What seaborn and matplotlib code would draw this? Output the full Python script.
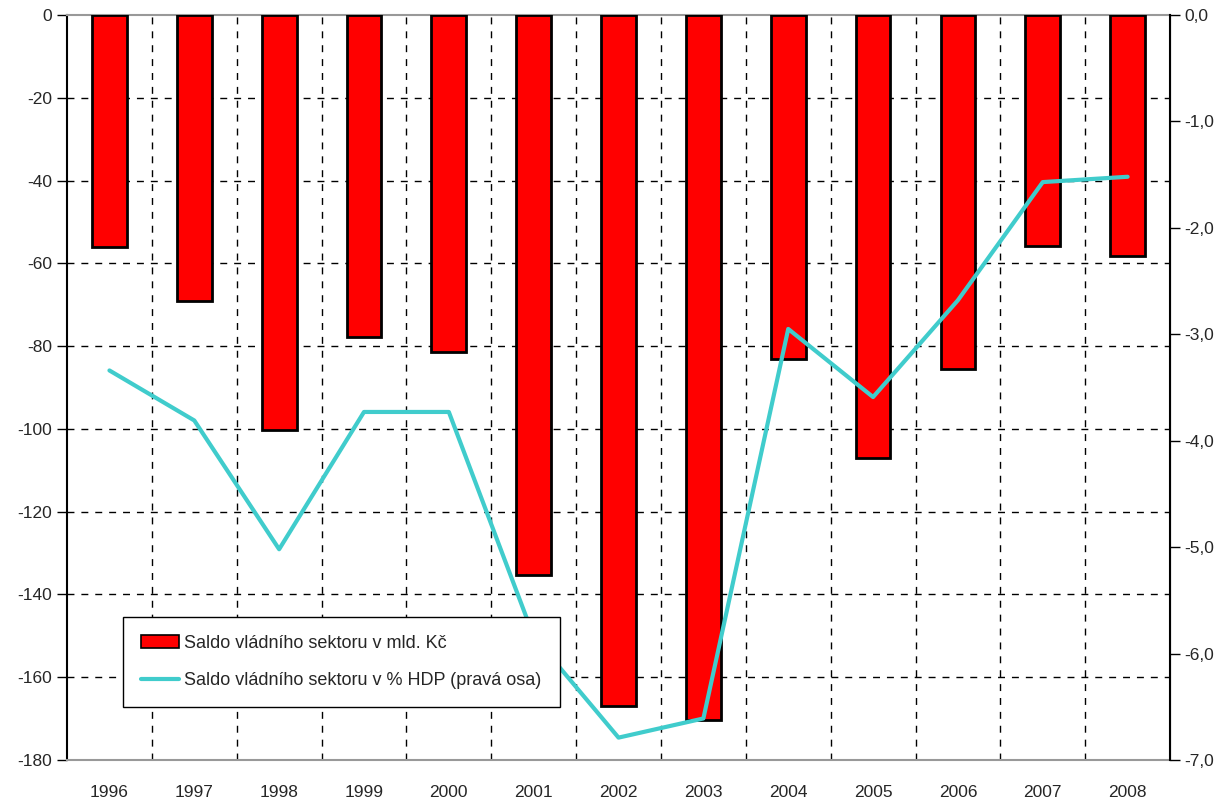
import numpy as np
import pandas as pd
import seaborn as sns
import matplotlib.pyplot as plt
from matplotlib.patches import Patch
from matplotlib.lines import Line2D

years = ['1996', '1997', '1998', '1999', '2000', '2001', '2002',
         '2003', '2004', '2005', '2006', '2007', '2008']
saldo_mld = [-56.0, -69.1, -100.3, -77.8, -81.4, -135.3, -167.0,
             -170.3, -83.1, -107.0, -85.5, -55.8, -58.2]
saldo_hdp = [-3.34, -3.81, -5.02, -3.73, -3.73, -5.84, -6.79,
             -6.61, -2.95, -3.59, -2.68, -1.57, -1.52]

df = pd.DataFrame({'rok': years, 'mld': saldo_mld, 'hdp': saldo_hdp})
df['pos'] = np.arange(len(years))

sns.set_style('white')
plt.rcParams['font.family'] = ['Liberation Sans', 'DejaVu Sans']

fig = plt.figure(figsize=(12.14, 8.02), dpi=100)
ax = fig.add_axes([0.0552, 0.0524, 0.9086, 0.9289])

sns.barplot(data=df, x='rok', y='mld', color='#FF0000', saturation=1,
            edgecolor='black', linewidth=2, width=0.41, ax=ax, zorder=3)

ax.set_xlim(-0.5, 12.5)
ax.set_ylim(-180, 0)
ax.set_yticks(np.arange(-180, 1, 20))
ax.set_yticklabels([str(v) for v in range(-180, 1, 20)], fontsize=12.5)
ax.set_xlabel('')
ax.set_ylabel('')
ax.tick_params(axis='x', length=0, pad=18, labelsize=12.5)
ax.tick_params(axis='y', left=True, length=7, width=1, direction='out', color='black')

# dashed grid: horizontal at each tick, vertical between categories
for v in range(-160, 0, 20):
    ax.axhline(v, color='black', lw=1, ls=(0, (5, 5)), zorder=1)
for b in np.arange(0.5, 12.5, 1):
    ax.axvline(b, color='black', lw=1, ls=(0, (5, 5)), zorder=1)

ax.spines['left'].set_color('black')
ax.spines['left'].set_linewidth(1.5)
for s in ['top', 'bottom']:
    ax.spines[s].set_color('#999999')
    ax.spines[s].set_linewidth(1.5)

ax2 = ax.twinx()
sns.lineplot(data=df, x='pos', y='hdp', color='#40CCCC', lw=3, ax=ax2, zorder=4)
ax2.set_ylim(-7, 0)
ax2.set_yticks(np.arange(-7, 0.5, 1))
ax2.set_yticklabels([f'{v:.1f}'.replace('.', ',') for v in range(-7, 1)], fontsize=12.5)
ax2.tick_params(axis='y', right=True, length=7, width=1, direction='out', color='black')
ax2.set_ylabel('')
ax2.set_xlim(-0.5, 12.5)
ax2.spines['right'].set_color('black')
ax2.spines['right'].set_linewidth(1.5)
for s in ['top', 'bottom', 'left']:
    ax2.spines[s].set_visible(False)

handles = [Patch(facecolor='#FF0000', edgecolor='black', linewidth=1.2),
           Line2D([0], [0], color='#40CCCC', lw=3)]
labels = ['Saldo vládního sektoru v mld. Kč',
          'Saldo vládního sektoru v % HDP (pravá osa)']
leg = ax2.legend(handles, labels, loc='lower left', bbox_to_anchor=(0.0508, 0.0711),
                 borderaxespad=0, frameon=True, fancybox=False, edgecolor='black',
                 framealpha=1, fontsize=13, handlelength=2.1, labelspacing=1.1,
                 borderpad=1.0, handletextpad=0.3)
leg.get_frame().set_linewidth(1)
leg.set_zorder(10)

fig.savefig('out.png', dpi=100)
